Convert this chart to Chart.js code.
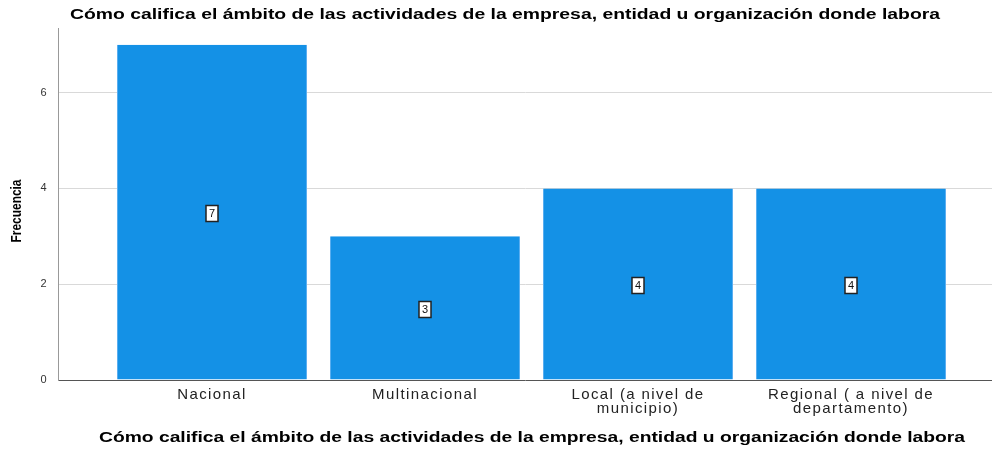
<!DOCTYPE html>
<html>
<head>
<meta charset="utf-8">
<script src="https://cdn.jsdelivr.net/npm/chart.js@4.4.1/dist/chart.umd.min.js"></script>
<style>
  html, body { margin: 0; padding: 0; background: #fff; }
  #wrap { width: 992px; height: 449px; }
</style>
</head>
<body>
<div id="wrap"><canvas id="chart"></canvas></div>
<script>
const chartTitle = 'Cómo califica el ámbito de las actividades de la empresa, entidad u organización donde labora';
const yTitle = 'Frecuencia';
const categories = [
    'Nacional',
    'Multinacional',
    ['Local (a nivel de', 'municipio)'],
    ['Regional ( a nivel de', 'departamento)']
];
const frecuencias = [7, 3, 4, 4];
const yTicks = [0, 2, 4, 6];

const barColor = '#1491e6';
const font = 'Liberation Sans';

// separa un poco las letras, la imagen original esta estirada
const spacingPlugin = {
    id: 'spacing',
    beforeLayout(chart) { chart.ctx.letterSpacing = '1.4px'; },
    beforeDraw(chart) { chart.ctx.letterSpacing = '1.4px'; }
};

// texto estirado a un ancho dado
function stretchText(ctx, text, cx, cy, width) {
    const w = ctx.measureText(text).width;
    ctx.save();
    ctx.translate(cx, cy);
    ctx.scale(width / w, 1);
    ctx.fillText(text, 0, 0);
    ctx.restore();
}

// titulos y etiquetas de valor
const labelsPlugin = {
    id: 'labels',
    afterDatasetsDraw(chart) {
        const ctx = chart.ctx;
        const meta = chart.getDatasetMeta(0);
        ctx.save();
        ctx.letterSpacing = '0px';
        ctx.font = '11px "' + font + '"';
        ctx.textAlign = 'center';
        ctx.textBaseline = 'middle';
        meta.data.forEach((bar, i) => {
            const x = Math.round(bar.x);
            const y = Math.round((bar.y + bar.base) / 2) + 1.5;
            ctx.fillStyle = '#fff';
            ctx.fillRect(x - 6, y - 8, 12, 16);
            ctx.strokeStyle = '#222';
            ctx.lineWidth = 1.5;
            ctx.strokeRect(x - 6, y - 8, 12, 16);
            ctx.fillStyle = '#111';
            ctx.fillText(String(frecuencias[i]), x, y + 0.5);
        });
        ctx.restore();
    },
    afterDraw(chart) {
        const ctx = chart.ctx;
        ctx.save();
        ctx.fillStyle = '#000';
        ctx.textAlign = 'center';
        ctx.textBaseline = 'middle';
        ctx.letterSpacing = '0px';
        ctx.font = 'bold 14px "' + font + '"';
        stretchText(ctx, chartTitle, 505, 15, 870);
        stretchText(ctx, chartTitle, 532, 438, 866);
        ctx.translate(17, 211);
        ctx.rotate(-Math.PI / 2);
        stretchText(ctx, yTitle, 0, 0, 63);
        ctx.restore();
    }
};

new Chart(document.getElementById('chart'), {
    type: 'bar',
    data: {
        datasets: [{
            data: frecuencias.map((v, i) => ({ x: i, y: v })),
            backgroundColor: barColor,
            borderColor: '#5aaef0',
            borderWidth: { left: 1, right: 1, top: 0, bottom: 0 },
            categoryPercentage: 1,
            barPercentage: 0.892
        }]
    },
    options: {
        responsive: true,
        maintainAspectRatio: false,
        animation: false,
        layout: { padding: { top: 28, left: 0, right: 0, bottom: 0 } },
        plugins: {
            legend: { display: false },
            title: { display: false },
            tooltip: { enabled: false }
        },
        scales: {
            x: {
                type: 'linear',
                offset: false,
                min: -0.723,
                max: 3.662,
                afterBuildTicks(scale) {
                    scale.ticks = categories.map((c, i) => ({ value: i }));
                },
                afterFit(scale) { scale.height = 69; },
                grid: { display: false, drawTicks: false },
                border: { display: true, color: '#555', width: 1 },
                ticks: {
                    autoSkip: false,
                    maxRotation: 0,
                    padding: 8,
                    color: '#222',
                    font: { family: font, size: 15, lineHeight: 0.93 },
                    callback: (v) => categories[v]
                }
            },
            y: {
                min: 0,
                max: 7.35,
                afterBuildTicks(scale) {
                    scale.ticks = yTicks.map(v => ({ value: v }));
                },
                afterFit(scale) { scale.width = 58; },
                grid: {
                    drawTicks: false,
                    color: (c) => c.tick && c.tick.value === 0 ? 'rgba(0,0,0,0)' : '#d9d9d9'
                },
                border: { display: true, color: '#999', width: 1 },
                ticks: {
                    padding: 10,
                    color: '#333',
                    font: { family: font, size: 11 }
                }
            }
        }
    },
    plugins: [spacingPlugin, labelsPlugin]
});
</script>
</body>
</html>
